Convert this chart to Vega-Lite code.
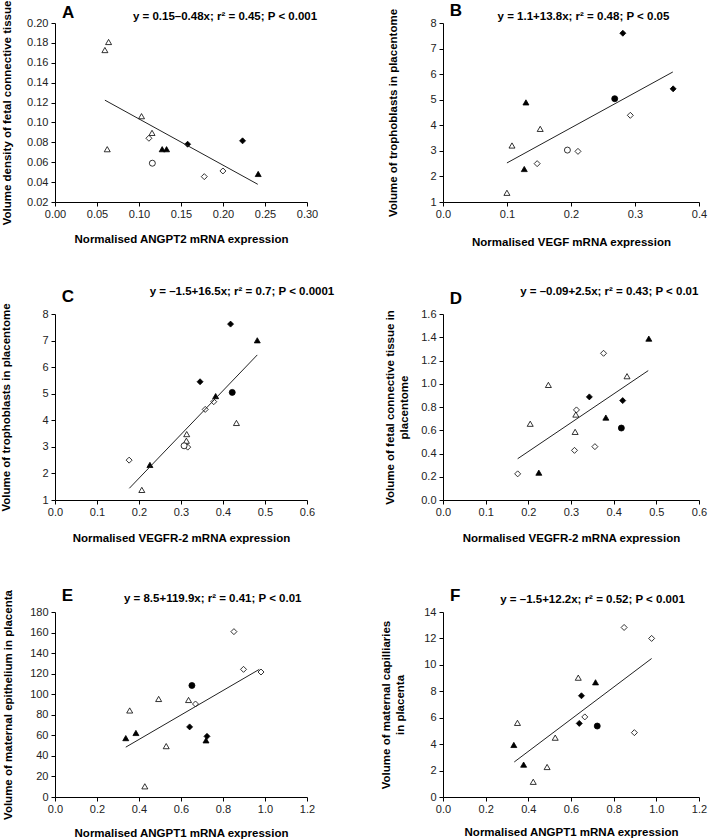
{
  "$schema": "https://vega.github.io/schema/vega-lite/v6.json",
  "padding": {"left": 0, "top": 0, "right": 2, "bottom": 0},
  "background": "white",
  "columns": 2,
  "bounds": "flush",
  "align": "each",
  "spacing": {"row": 112, "column": 136},
  "config": {
    "view": {"stroke": null},
    "font": "Liberation Sans",
    "axis": {"grid": false, "domainColor": "#000", "tickColor": "#000", "tickSize": 4, "tickCount": 30, "labelFontSize": 11, "labelColor": "#222", "titleFontSize": 11.5, "titleFontWeight": "bold", "titleColor": "#000", "labelPadding": 2, "labelFlush": false, "labelOverlap": false, "titleLineHeight": 14},
    "axisY": {"labelPadding": 3},
    "point": {"filled": true, "stroke": "#000", "strokeWidth": 0.8, "opacity": 1},
    "line": {"color": "#222", "strokeWidth": 1}
  },
  "concat": [
    {
      "width": 252, "height": 179,
      "layer": [
        {
          "data": {"values": [
            {"x": 0.0594, "y": 0.1728, "marker": "otri"},
            {"x": 0.0638, "y": 0.1809, "marker": "otri"},
            {"x": 0.0622, "y": 0.0731, "marker": "otri"},
            {"x": 0.103, "y": 0.1063, "marker": "otri"},
            {"x": 0.1155, "y": 0.0895, "marker": "otri"},
            {"x": 0.1118, "y": 0.0841, "marker": "odia"},
            {"x": 0.1777, "y": 0.0455, "marker": "odia"},
            {"x": 0.1999, "y": 0.0512, "marker": "odia"},
            {"x": 0.1159, "y": 0.059, "marker": "ocir"},
            {"x": 0.1276, "y": 0.0731, "marker": "ftri"},
            {"x": 0.1328, "y": 0.0731, "marker": "ftri"},
            {"x": 0.2419, "y": 0.0482, "marker": "ftri"},
            {"x": 0.1579, "y": 0.0781, "marker": "fdia"},
            {"x": 0.2233, "y": 0.0815, "marker": "fdia"}
          ]},
          "mark": "point",
          "encoding": {
            "x": {"field": "x", "type": "quantitative", "scale": {"domain": [0, 0.3], "nice": false, "zero": false}, "axis": {"values": [0, 0.05, 0.1, 0.15, 0.2, 0.25, 0.3], "format": ".2f", "title": "Normalised ANGPT2 mRNA expression", "titlePadding": 14}},
            "y": {"field": "y", "type": "quantitative", "scale": {"domain": [0.02, 0.2], "nice": false, "zero": false}, "axis": {"values": [0.02, 0.04, 0.06, 0.08, 0.1, 0.12, 0.14, 0.16, 0.18, 0.2], "format": ".2f", "title": "Volume density of fetal connective tissue", "titlePadding": 14}},
            "shape": {"field": "marker", "type": "nominal", "scale": {"domain": ["otri", "ftri", "odia", "fdia", "ocir", "fcir"], "range": ["triangle-up", "triangle-up", "diamond", "diamond", "circle", "circle"]}, "legend": null},
            "fill": {"field": "marker", "type": "nominal", "scale": {"domain": ["otri", "ftri", "odia", "fdia", "ocir", "fcir"], "range": ["#fff", "#000", "#fff", "#000", "#fff", "#000"]}, "legend": null},
            "size": {"field": "marker", "type": "nominal", "scale": {"domain": ["otri", "ftri", "odia", "fdia", "ocir", "fcir"], "range": [36, 36, 18, 20, 20, 30]}, "legend": null}
          }
        },
        {
          "data": {"values": [{"x": 0.0594, "y": 0.1224}, {"x": 0.2414, "y": 0.0378}]},
          "mark": "line",
          "encoding": {"x": {"field": "x", "type": "quantitative"}, "y": {"field": "y", "type": "quantitative"}}
        },
        {
          "data": {"values": [{}]},
          "mark": {"type": "text", "fontSize": 17, "fontWeight": "bold", "align": "center", "baseline": "middle", "color": "#000"},
          "encoding": {"x": {"datum": 0.0155, "type": "quantitative"}, "y": {"datum": 0.2105, "type": "quantitative"}, "text": {"value": "A"}}
        },
        {
          "data": {"values": [{}]},
          "mark": {"type": "text", "fontSize": 11.5, "fontWeight": "bold", "align": "center", "baseline": "middle", "color": "#000"},
          "encoding": {"x": {"datum": 0.2024, "type": "quantitative"}, "y": {"datum": 0.2063, "type": "quantitative"}, "text": {"value": "y = 0.15–0.48x; r² = 0.45; P < 0.001"}}
        }
      ]
    },
    {
      "width": 256, "height": 179,
      "layer": [
        {
          "data": {"values": [
            {"x": 0.281, "y": 7.6, "marker": "fdia"},
            {"x": 0.3596, "y": 5.425, "marker": "fdia"},
            {"x": 0.2683, "y": 5.04, "marker": "fcir"},
            {"x": 0.2927, "y": 4.39, "marker": "odia"},
            {"x": 0.2109, "y": 2.98, "marker": "odia"},
            {"x": 0.1471, "y": 2.5, "marker": "odia"},
            {"x": 0.1296, "y": 4.895, "marker": "ftri"},
            {"x": 0.127, "y": 2.29, "marker": "ftri"},
            {"x": 0.1519, "y": 3.86, "marker": "otri"},
            {"x": 0.1078, "y": 3.21, "marker": "otri"},
            {"x": 0.0999, "y": 1.36, "marker": "otri"},
            {"x": 0.1944, "y": 3.03, "marker": "ocir"}
          ]},
          "mark": "point",
          "encoding": {
            "x": {"field": "x", "type": "quantitative", "scale": {"domain": [0, 0.4], "nice": false, "zero": false}, "axis": {"values": [0, 0.1, 0.2, 0.3, 0.4], "format": ".1f", "title": "Normalised VEGF mRNA expression", "titlePadding": 17}},
            "y": {"field": "y", "type": "quantitative", "scale": {"domain": [1, 8], "nice": false, "zero": false}, "axis": {"values": [1, 2, 3, 4, 5, 6, 7, 8], "format": "d", "title": "Volume of trophoblasts in placentome", "titlePadding": 31}},
            "shape": {"field": "marker", "type": "nominal", "scale": {"domain": ["otri", "ftri", "odia", "fdia", "ocir", "fcir"], "range": ["triangle-up", "triangle-up", "diamond", "diamond", "circle", "circle"]}, "legend": null},
            "fill": {"field": "marker", "type": "nominal", "scale": {"domain": ["otri", "ftri", "odia", "fdia", "ocir", "fcir"], "range": ["#fff", "#000", "#fff", "#000", "#fff", "#000"]}, "legend": null},
            "size": {"field": "marker", "type": "nominal", "scale": {"domain": ["otri", "ftri", "odia", "fdia", "ocir", "fcir"], "range": [36, 36, 18, 20, 20, 30]}, "legend": null}
          }
        },
        {
          "data": {"values": [{"x": 0.0999, "y": 2.527}, {"x": 0.3591, "y": 6.085}]},
          "mark": "line",
          "encoding": {"x": {"field": "x", "type": "quantitative"}, "y": {"field": "y", "type": "quantitative"}}
        },
        {
          "data": {"values": [{}]},
          "mark": {"type": "text", "fontSize": 17, "fontWeight": "bold", "align": "center", "baseline": "middle", "color": "#000"},
          "encoding": {"x": {"datum": 0.0203, "type": "quantitative"}, "y": {"datum": 8.46, "type": "quantitative"}, "text": {"value": "B"}}
        },
        {
          "data": {"values": [{}]},
          "mark": {"type": "text", "fontSize": 11.5, "fontWeight": "bold", "align": "center", "baseline": "middle", "color": "#000"},
          "encoding": {"x": {"datum": 0.2195, "type": "quantitative"}, "y": {"datum": 8.233, "type": "quantitative"}, "text": {"value": "y = 1.1+13.8x; r² = 0.48; P < 0.05"}}
        }
      ]
    },
    {
      "width": 252, "height": 186,
      "layer": [
        {
          "data": {"values": [
            {"x": 0.418, "y": 7.62, "marker": "fdia"},
            {"x": 0.3454, "y": 5.45, "marker": "fdia"},
            {"x": 0.4816, "y": 7.01, "marker": "ftri"},
            {"x": 0.3825, "y": 4.91, "marker": "ftri"},
            {"x": 0.226, "y": 2.32, "marker": "ftri"},
            {"x": 0.422, "y": 5.05, "marker": "fcir"},
            {"x": 0.378, "y": 4.7, "marker": "odia"},
            {"x": 0.3577, "y": 4.41, "marker": "odia"},
            {"x": 0.316, "y": 2.99, "marker": "odia"},
            {"x": 0.1765, "y": 2.5, "marker": "odia"},
            {"x": 0.432, "y": 3.9, "marker": "otri"},
            {"x": 0.3136, "y": 3.48, "marker": "otri"},
            {"x": 0.3128, "y": 3.23, "marker": "otri"},
            {"x": 0.2067, "y": 1.38, "marker": "otri"},
            {"x": 0.3074, "y": 3.04, "marker": "ocir"}
          ]},
          "mark": "point",
          "encoding": {
            "x": {"field": "x", "type": "quantitative", "scale": {"domain": [0, 0.6], "nice": false, "zero": false}, "axis": {"values": [0, 0.1, 0.2, 0.3, 0.4, 0.5, 0.6], "format": ".1f", "title": "Normalised VEGFR-2 mRNA expression", "titlePadding": 15}},
            "y": {"field": "y", "type": "quantitative", "scale": {"domain": [1, 8], "nice": false, "zero": false}, "axis": {"values": [1, 2, 3, 4, 5, 6, 7, 8], "format": "d", "title": "Volume of trophoblasts in placentome", "titlePadding": 30}},
            "shape": {"field": "marker", "type": "nominal", "scale": {"domain": ["otri", "ftri", "odia", "fdia", "ocir", "fcir"], "range": ["triangle-up", "triangle-up", "diamond", "diamond", "circle", "circle"]}, "legend": null},
            "fill": {"field": "marker", "type": "nominal", "scale": {"domain": ["otri", "ftri", "odia", "fdia", "ocir", "fcir"], "range": ["#fff", "#000", "#fff", "#000", "#fff", "#000"]}, "legend": null},
            "size": {"field": "marker", "type": "nominal", "scale": {"domain": ["otri", "ftri", "odia", "fdia", "ocir", "fcir"], "range": [36, 36, 18, 20, 20, 30]}, "legend": null}
          }
        },
        {
          "data": {"values": [{"x": 0.177, "y": 1.44}, {"x": 0.4816, "y": 6.46}]},
          "mark": "line",
          "encoding": {"x": {"field": "x", "type": "quantitative"}, "y": {"field": "y", "type": "quantitative"}}
        },
        {
          "data": {"values": [{}]},
          "mark": {"type": "text", "fontSize": 17, "fontWeight": "bold", "align": "center", "baseline": "middle", "color": "#000"},
          "encoding": {"x": {"datum": 0.0305, "type": "quantitative"}, "y": {"datum": 8.621, "type": "quantitative"}, "text": {"value": "C"}}
        },
        {
          "data": {"values": [{}]},
          "mark": {"type": "text", "fontSize": 11.5, "fontWeight": "bold", "align": "center", "baseline": "middle", "color": "#000"},
          "encoding": {"x": {"datum": 0.4452, "type": "quantitative"}, "y": {"datum": 8.828, "type": "quantitative"}, "text": {"value": "y = –1.5+16.5x; r² = 0.7; P < 0.0001"}}
        }
      ]
    },
    {
      "width": 256, "height": 186,
      "layer": [
        {
          "data": {"values": [
            {"x": 0.4824, "y": 1.388, "marker": "ftri"},
            {"x": 0.3817, "y": 0.709, "marker": "ftri"},
            {"x": 0.2246, "y": 0.235, "marker": "ftri"},
            {"x": 0.3763, "y": 1.262, "marker": "odia"},
            {"x": 0.3128, "y": 0.775, "marker": "odia"},
            {"x": 0.3082, "y": 0.427, "marker": "odia"},
            {"x": 0.356, "y": 0.459, "marker": "odia"},
            {"x": 0.175, "y": 0.225, "marker": "odia"},
            {"x": 0.4313, "y": 1.065, "marker": "otri"},
            {"x": 0.247, "y": 0.99, "marker": "otri"},
            {"x": 0.3113, "y": 0.735, "marker": "otri"},
            {"x": 0.2044, "y": 0.656, "marker": "otri"},
            {"x": 0.3097, "y": 0.586, "marker": "otri"},
            {"x": 0.343, "y": 0.887, "marker": "fdia"},
            {"x": 0.4212, "y": 0.855, "marker": "fdia"},
            {"x": 0.418, "y": 0.619, "marker": "fcir"}
          ]},
          "mark": "point",
          "encoding": {
            "x": {"field": "x", "type": "quantitative", "scale": {"domain": [0, 0.6], "nice": false, "zero": false}, "axis": {"values": [0, 0.1, 0.2, 0.3, 0.4, 0.5, 0.6], "format": ".1f", "title": "Normalised VEGFR-2 mRNA expression", "titlePadding": 15}},
            "y": {"field": "y", "type": "quantitative", "scale": {"domain": [0, 1.6], "nice": false, "zero": false}, "axis": {"values": [0, 0.2, 0.4, 0.6, 0.8, 1.0, 1.2, 1.4, 1.6], "format": ".1f", "title": ["Volume of fetal connective tissue in", "placentome"], "titlePadding": 11}},
            "shape": {"field": "marker", "type": "nominal", "scale": {"domain": ["otri", "ftri", "odia", "fdia", "ocir", "fcir"], "range": ["triangle-up", "triangle-up", "diamond", "diamond", "circle", "circle"]}, "legend": null},
            "fill": {"field": "marker", "type": "nominal", "scale": {"domain": ["otri", "ftri", "odia", "fdia", "ocir", "fcir"], "range": ["#fff", "#000", "#fff", "#000", "#fff", "#000"]}, "legend": null},
            "size": {"field": "marker", "type": "nominal", "scale": {"domain": ["otri", "ftri", "odia", "fdia", "ocir", "fcir"], "range": [36, 36, 18, 20, 20, 30]}, "legend": null}
          }
        },
        {
          "data": {"values": [{"x": 0.175, "y": 0.355}, {"x": 0.481, "y": 1.113}]},
          "mark": "line",
          "encoding": {"x": {"field": "x", "type": "quantitative"}, "y": {"field": "y", "type": "quantitative"}}
        },
        {
          "data": {"values": [{}]},
          "mark": {"type": "text", "fontSize": 17, "fontWeight": "bold", "align": "center", "baseline": "middle", "color": "#000"},
          "encoding": {"x": {"datum": 0.0305, "type": "quantitative"}, "y": {"datum": 1.731, "type": "quantitative"}, "text": {"value": "D"}}
        },
        {
          "data": {"values": [{}]},
          "mark": {"type": "text", "fontSize": 11.5, "fontWeight": "bold", "align": "center", "baseline": "middle", "color": "#000"},
          "encoding": {"x": {"datum": 0.3897, "type": "quantitative"}, "y": {"datum": 1.785, "type": "quantitative"}, "text": {"value": "y = –0.09+2.5x; r² = 0.43; P < 0.01"}}
        }
      ]
    },
    {
      "width": 252, "height": 185,
      "layer": [
        {
          "data": {"values": [
            {"x": 0.852, "y": 160.9, "marker": "odia"},
            {"x": 0.8977, "y": 124.2, "marker": "odia"},
            {"x": 0.981, "y": 121.6, "marker": "odia"},
            {"x": 0.669, "y": 90.5, "marker": "odia"},
            {"x": 0.652, "y": 108.5, "marker": "fcir"},
            {"x": 0.641, "y": 68.2, "marker": "fdia"},
            {"x": 0.7237, "y": 59.0, "marker": "fdia"},
            {"x": 0.4936, "y": 95.4, "marker": "otri"},
            {"x": 0.636, "y": 94.4, "marker": "otri"},
            {"x": 0.3557, "y": 84.2, "marker": "otri"},
            {"x": 0.5296, "y": 49.5, "marker": "otri"},
            {"x": 0.4277, "y": 10.4, "marker": "otri"},
            {"x": 0.3853, "y": 62.3, "marker": "ftri"},
            {"x": 0.337, "y": 57.3, "marker": "ftri"},
            {"x": 0.719, "y": 55.1, "marker": "ftri"}
          ]},
          "mark": "point",
          "encoding": {
            "x": {"field": "x", "type": "quantitative", "scale": {"domain": [0, 1.2], "nice": false, "zero": false}, "axis": {"values": [0, 0.2, 0.4, 0.6, 0.8, 1.0, 1.2], "format": ".1f", "title": "Normalised ANGPT1 mRNA expression", "titlePadding": 13}},
            "y": {"field": "y", "type": "quantitative", "scale": {"domain": [0, 180], "nice": false, "zero": false}, "axis": {"values": [0, 20, 40, 60, 80, 100, 120, 140, 160, 180], "format": "d", "title": "Volume of maternal epithelium in placenta", "titlePadding": 16}},
            "shape": {"field": "marker", "type": "nominal", "scale": {"domain": ["otri", "ftri", "odia", "fdia", "ocir", "fcir"], "range": ["triangle-up", "triangle-up", "diamond", "diamond", "circle", "circle"]}, "legend": null},
            "fill": {"field": "marker", "type": "nominal", "scale": {"domain": ["otri", "ftri", "odia", "fdia", "ocir", "fcir"], "range": ["#fff", "#000", "#fff", "#000", "#fff", "#000"]}, "legend": null},
            "size": {"field": "marker", "type": "nominal", "scale": {"domain": ["otri", "ftri", "odia", "fdia", "ocir", "fcir"], "range": [36, 36, 18, 20, 20, 30]}, "legend": null}
          }
        },
        {
          "data": {"values": [{"x": 0.337, "y": 48.5}, {"x": 0.973, "y": 124.2}]},
          "mark": "line",
          "encoding": {"x": {"field": "x", "type": "quantitative"}, "y": {"field": "y", "type": "quantitative"}}
        },
        {
          "data": {"values": [{}]},
          "mark": {"type": "text", "fontSize": 17, "fontWeight": "bold", "align": "center", "baseline": "middle", "color": "#000"},
          "encoding": {"x": {"datum": 0.0595, "type": "quantitative"}, "y": {"datum": 196.05, "type": "quantitative"}, "text": {"value": "E"}}
        },
        {
          "data": {"values": [{}]},
          "mark": {"type": "text", "fontSize": 11.5, "fontWeight": "bold", "align": "center", "baseline": "middle", "color": "#000"},
          "encoding": {"x": {"datum": 0.751, "type": "quantitative"}, "y": {"datum": 193.1, "type": "quantitative"}, "text": {"value": "y = 8.5+119.9x; r² = 0.41; P < 0.01"}}
        }
      ]
    },
    {
      "width": 256, "height": 185,
      "layer": [
        {
          "data": {"values": [
            {"x": 0.849, "y": 12.83, "marker": "odia"},
            {"x": 0.978, "y": 12.0, "marker": "odia"},
            {"x": 0.6646, "y": 6.06, "marker": "odia"},
            {"x": 0.897, "y": 4.87, "marker": "odia"},
            {"x": 0.634, "y": 9.03, "marker": "otri"},
            {"x": 0.349, "y": 5.61, "marker": "otri"},
            {"x": 0.526, "y": 4.49, "marker": "otri"},
            {"x": 0.488, "y": 2.27, "marker": "otri"},
            {"x": 0.423, "y": 1.15, "marker": "otri"},
            {"x": 0.715, "y": 8.68, "marker": "ftri"},
            {"x": 0.332, "y": 3.94, "marker": "ftri"},
            {"x": 0.378, "y": 2.45, "marker": "ftri"},
            {"x": 0.649, "y": 7.66, "marker": "fdia"},
            {"x": 0.6387, "y": 5.57, "marker": "fdia"},
            {"x": 0.723, "y": 5.37, "marker": "fcir"}
          ]},
          "mark": "point",
          "encoding": {
            "x": {"field": "x", "type": "quantitative", "scale": {"domain": [0, 1.2], "nice": false, "zero": false}, "axis": {"values": [0, 0.2, 0.4, 0.6, 0.8, 1.0, 1.2], "format": ".1f", "title": "Normalised ANGPT1 mRNA expression", "titlePadding": 12}},
            "y": {"field": "y", "type": "quantitative", "scale": {"domain": [0, 14], "nice": false, "zero": false}, "axis": {"values": [0, 2, 4, 6, 8, 10, 12, 14], "format": "d", "title": ["Volume of maternal capilliaries", "in placenta"], "titlePadding": 18}},
            "shape": {"field": "marker", "type": "nominal", "scale": {"domain": ["otri", "ftri", "odia", "fdia", "ocir", "fcir"], "range": ["triangle-up", "triangle-up", "diamond", "diamond", "circle", "circle"]}, "legend": null},
            "fill": {"field": "marker", "type": "nominal", "scale": {"domain": ["otri", "ftri", "odia", "fdia", "ocir", "fcir"], "range": ["#fff", "#000", "#fff", "#000", "#fff", "#000"]}, "legend": null},
            "size": {"field": "marker", "type": "nominal", "scale": {"domain": ["otri", "ftri", "odia", "fdia", "ocir", "fcir"], "range": [36, 36, 18, 20, 20, 30]}, "legend": null}
          }
        },
        {
          "data": {"values": [{"x": 0.334, "y": 2.65}, {"x": 0.978, "y": 10.48}]},
          "mark": "line",
          "encoding": {"x": {"field": "x", "type": "quantitative"}, "y": {"field": "y", "type": "quantitative"}}
        },
        {
          "data": {"values": [{}]},
          "mark": {"type": "text", "fontSize": 17, "fontWeight": "bold", "align": "center", "baseline": "middle", "color": "#000"},
          "encoding": {"x": {"datum": 0.0577, "type": "quantitative"}, "y": {"datum": 15.226, "type": "quantitative"}, "text": {"value": "F"}}
        },
        {
          "data": {"values": [{}]},
          "mark": {"type": "text", "fontSize": 11.5, "fontWeight": "bold", "align": "center", "baseline": "middle", "color": "#000"},
          "encoding": {"x": {"datum": 0.7009, "type": "quantitative"}, "y": {"datum": 14.93, "type": "quantitative"}, "text": {"value": "y = –1.5+12.2x; r² = 0.52; P < 0.001"}}
        }
      ]
    }
  ]
}
